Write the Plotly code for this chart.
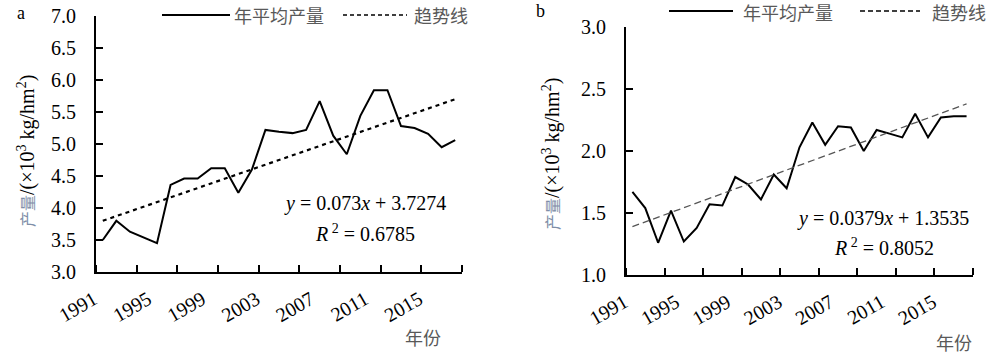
import plotly.graph_objects as go

# ---------------- data ----------------
years = list(range(1991, 2018))
yield_a = [3.50, 3.80, 3.63, 3.54, 3.45, 4.36, 4.46, 4.46, 4.62, 4.62,
           4.24, 4.60, 5.22, 5.19, 5.17, 5.22, 5.67, 5.13, 4.84, 5.44,
           5.84, 5.84, 5.28, 5.25, 5.16, 4.95, 5.06]
yield_b = [1.67, 1.54, 1.26, 1.52, 1.27, 1.38, 1.57, 1.56, 1.79, 1.73,
           1.61, 1.81, 1.70, 2.03, 2.23, 2.05, 2.20, 2.19, 2.00, 2.17,
           2.14, 2.11, 2.30, 2.11, 2.27, 2.28, 2.28]
trend_years = [1991, 2017]
trend_a = [3.80, 5.70]
trend_b = [1.39, 2.38]
x_labels = [1991, 1995, 1999, 2003, 2007, 2011, 2015]
series_name = "年平均产量"
trend_name = "趋势线"
eq_a = "<i>y</i> = 0.073<i>x</i> + 3.7274"
r2_a = "<i>R</i><sup> 2</sup> = 0.6785"
eq_b = "<i>y</i> = 0.0379<i>x</i> + 1.3535"
r2_b = "<i>R</i><sup> 2</sup> = 0.8052"
y_title = ("<span style='color:#7f8fa8;font-size:16px'>产量</span>"
           "/(×10<sup>3</sup> kg/hm<sup>2</sup>)")
x_title = "年份"

W, H = 999, 359
SERIF = "'Liberation Serif', 'Noto Sans CJK SC', serif"
CJK = "'Noto Sans CJK SC', 'Liberation Serif', sans-serif"


def px(x):
    return x / W


def py(y):
    return 1 - y / H


fig = go.Figure()

# panel a
fig.add_trace(go.Scatter(x=years, y=yield_a, mode="lines", name=series_name,
                         line=dict(color="black", width=2), xaxis="x", yaxis="y",
                         showlegend=False))
fig.add_trace(go.Scatter(x=trend_years, y=trend_a, mode="lines", name=trend_name,
                         line=dict(color="black", width=2.2, dash="4px,4px"),
                         xaxis="x", yaxis="y", showlegend=False))
# panel b
fig.add_trace(go.Scatter(x=years, y=yield_b, mode="lines", name=series_name,
                         line=dict(color="black", width=2), xaxis="x2", yaxis="y2",
                         showlegend=False))
fig.add_trace(go.Scatter(x=trend_years, y=trend_b, mode="lines", name=trend_name,
                         line=dict(color="#555555", width=1.3, dash="7px,4px"),
                         xaxis="x2", yaxis="y2", showlegend=False))

tickfont = dict(family=SERIF, size=20, color="black")


def xaxis(domain, anchor, shift):
    return dict(domain=domain, anchor=anchor, range=[1990.5, 2017.5],
                tickmode="array", tickvals=x_labels, ticktext=[str(v) for v in x_labels],
                tickangle=-30, ticks="", showgrid=False, zeroline=False,
                showline=True, linecolor="black", linewidth=2,
                tickfont=tickfont, ticklabelstandoff=6, ticklabelshift=shift,
                automargin=False,
                minor=dict(tick0=1990.5, dtick=3, ticks="inside", ticklen=7,
                           tickwidth=2, tickcolor="black", showgrid=False))


def yaxis(domain, anchor, rng):
    return dict(domain=domain, anchor=anchor, range=rng, dtick=0.5, tick0=rng[0],
                tickformat=".1f", ticks="inside", ticklen=7, tickwidth=2,
                tickcolor="black", showgrid=False, zeroline=False,
                showline=True, linecolor="black", linewidth=2,
                tickfont=tickfont, ticklabelstandoff=14, automargin=False)


fig.update_layout(
    width=W, height=H, autosize=False,
    margin=dict(l=0, r=0, t=0, b=0),
    paper_bgcolor="white", plot_bgcolor="white",
    template="none",
    showlegend=False,
    xaxis=xaxis([px(96), px(462)], "y", -9),
    yaxis=yaxis([py(272), py(16)], "x", [3, 7]),
    xaxis2=xaxis([px(626), px(973)], "y2", -8),
    yaxis2=yaxis([py(275), py(27)], "x2", [1, 3]),
)

ann = []


def text(x, y, s, size=18, color="black", family=SERIF, xanchor="center", angle=0):
    ann.append(dict(x=px(x), y=py(y), xref="paper", yref="paper", text=s,
                    showarrow=False, xanchor=xanchor, yanchor="middle",
                    textangle=angle, font=dict(family=family, size=size, color=color)))


# panel letters
text(21, 13, "a", size=18)
text(540, 11, "b", size=18)
# equations
text(365, 203, eq_a, size=20)
text(365, 233, r2_a, size=20)
text(883, 218, eq_b, size=20)
text(884, 247, r2_b, size=20)
# axis titles
text(423, 337, x_title, size=18, color="#595959", family=CJK)
text(954, 342, x_title, size=18, color="#595959", family=CJK)
text(26, 151, y_title, size=20, angle=-90)
text(551, 154, y_title, size=20, angle=-90)
# legends
text(232, 15, series_name, size=18, color="#595959", family=CJK, xanchor="left")
text(412, 15, trend_name, size=18, color="#595959", family=CJK, xanchor="left")
text(741, 12, series_name, size=18, color="#595959", family=CJK, xanchor="left")
text(930, 12, trend_name, size=18, color="#595959", family=CJK, xanchor="left")
fig.update_layout(annotations=ann)

shapes = [
    dict(type="line", xref="paper", yref="paper", x0=px(162), x1=px(230), y0=py(15), y1=py(15),
         line=dict(color="black", width=2)),
    dict(type="line", xref="paper", yref="paper", x0=px(343), x1=px(407), y0=py(15), y1=py(15),
         line=dict(color="black", width=1.5, dash="4px,3px")),
    dict(type="line", xref="paper", yref="paper", x0=px(669), x1=px(733), y0=py(11), y1=py(11),
         line=dict(color="black", width=2)),
    dict(type="line", xref="paper", yref="paper", x0=px(860), x1=px(920), y0=py(11), y1=py(11),
         line=dict(color="black", width=1.5, dash="5px,3px")),
]
fig.update_layout(shapes=shapes)

fig.write_html("out.html", config={"displayModeBar": False},
               post_script="document.body.style.margin='0px';document.body.style.overflow='hidden';")
